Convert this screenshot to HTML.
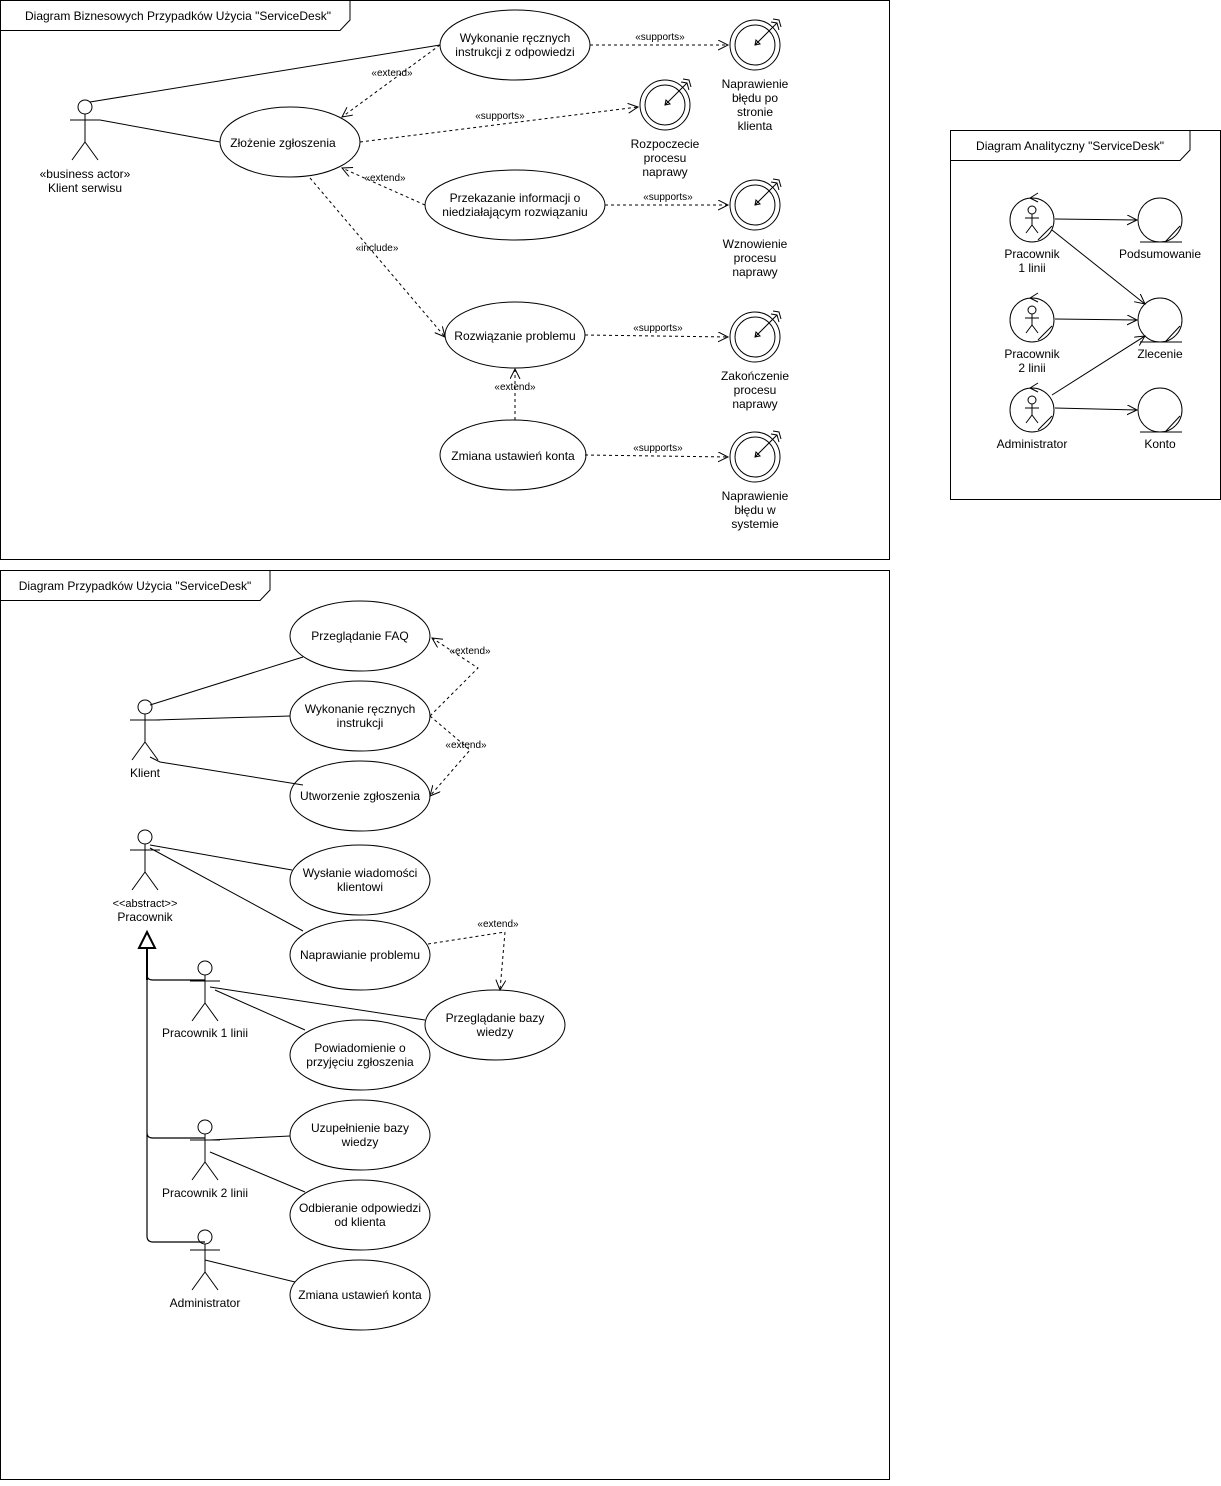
<!DOCTYPE html>
<html><head><meta charset="utf-8"><style>
body{margin:0;background:#fff}
svg text{font-family:"Liberation Sans",sans-serif;font-size:12px;fill:#000}
.s{font-size:10px}
</style></head><body>
<svg width="1221" height="1481" viewBox="0 0 1221 1481" xmlns="http://www.w3.org/2000/svg">
<defs>
<marker id="oa" markerWidth="12" markerHeight="12" refX="10" refY="5" orient="auto" markerUnits="userSpaceOnUse"><path d="M0,0 L10,5 L0,10" fill="none" stroke="#000"/></marker>
<g id="actor" fill="none" stroke="#000"><circle cx="0" cy="0" r="7"/><path d="M0,7 V35 M-15,13 H15 M0,35 L-13,53 M0,35 L13,53"/></g>
<g id="goal" fill="none" stroke="#000"><circle r="25"/><circle r="20"/><path d="M0,0 L22,-22 M16,-23 L22,-22 L24,-15 M18,-26 L24,-25 L26,-18"/><path d="M0,0 l5,-1 l-4,-4 z"/></g>
<g id="ctl" fill="none" stroke="#000"><circle r="22"/><path d="M-2,-22 l8,-5 M-2,-22 l8,4"/><circle cx="0" cy="-10" r="4"/><path d="M0,-6 V5 M-7,-2 H7 M0,5 L-6,13 M0,5 L6,13"/><path d="M6,20 L20,6"/></g>
<g id="ent" fill="none" stroke="#000"><circle r="22"/><path d="M-20,22 H22 M6,21 L20,6"/></g>
</defs>
<g fill="none" stroke="#000">
<!-- top frame -->
<rect x="0.5" y="0.5" width="889" height="559"/>
<path d="M0.5,30.5 H340 L350,20 V0.5"/>
<rect x="950.5" y="130.5" width="270" height="369"/>
<path d="M950.5,160.5 H1180 L1190,150 V130.5"/>
<rect x="0.5" y="570.5" width="889" height="909"/>
<path d="M0.5,600.5 H260 L270,590 V570.5"/>
<!-- top ellipses -->
<ellipse cx="515" cy="45" rx="75" ry="35"/>
<ellipse cx="290" cy="142" rx="70" ry="35"/>
<ellipse cx="515" cy="205" rx="90" ry="35"/>
<ellipse cx="515" cy="335" rx="70" ry="33"/>
<ellipse cx="513" cy="455" rx="73" ry="35"/>
<path d="M90,102 L440,45 M100,120 L220,142"/>
</g>
<use href="#actor" x="85" y="107"/>
<use href="#goal" x="755" y="45"/>
<use href="#goal" x="665" y="105"/>
<use href="#goal" x="755" y="205"/>
<use href="#goal" x="755" y="337"/>
<use href="#goal" x="755" y="457"/>
<g fill="none" stroke="#000" stroke-dasharray="3,3" marker-end="url(#oa)">
<path d="M590,45 L728,45"/>
<path d="M360,142 L638,107"/>
<path d="M605,205 L728,205"/>
<path d="M585,335 L728,337"/>
<path d="M585,455 L728,457"/>
<path d="M440,45 L342,117"/>
<path d="M425,205 L342,168"/>
<path d="M310,178 L445,337"/>
<path d="M515,420 L515,369"/>
</g>
<g text-anchor="middle">
<text x="25" y="20" text-anchor="start">Diagram Biznesowych Przypadków Użycia "ServiceDesk"</text>
<text x="85" y="178">«business actor»</text><text x="85" y="192">Klient serwisu</text>
<text x="515" y="42">Wykonanie ręcznych</text><text x="515" y="56">instrukcji z odpowiedzi</text>
<text x="283" y="147">Złożenie zgłoszenia</text>
<text x="515" y="202">Przekazanie informacji o</text><text x="515" y="216">niedziałającym rozwiązaniu</text>
<text x="515" y="340">Rozwiązanie problemu</text>
<text x="513" y="460">Zmiana ustawień konta</text>
<text class="s" x="660" y="40">«supports»</text>
<text class="s" x="500" y="119">«supports»</text>
<text class="s" x="668" y="200">«supports»</text>
<text class="s" x="658" y="331">«supports»</text>
<text class="s" x="658" y="451">«supports»</text>
<text class="s" x="392" y="76">«extend»</text>
<text class="s" x="385" y="181">«extend»</text>
<text class="s" x="377" y="251">«include»</text>
<text class="s" x="515" y="390">«extend»</text>
<text x="755" y="88">Naprawienie</text><text x="755" y="102">błędu po</text><text x="755" y="116">stronie</text><text x="755" y="130">klienta</text>
<text x="665" y="148">Rozpoczecie</text><text x="665" y="162">procesu</text><text x="665" y="176">naprawy</text>
<text x="755" y="248">Wznowienie</text><text x="755" y="262">procesu</text><text x="755" y="276">naprawy</text>
<text x="755" y="380">Zakończenie</text><text x="755" y="394">procesu</text><text x="755" y="408">naprawy</text>
<text x="755" y="500">Naprawienie</text><text x="755" y="514">błędu w</text><text x="755" y="528">systemie</text>
</g>
<!-- analytical -->
<use href="#ctl" x="1032" y="220"/><use href="#ctl" x="1032" y="320"/><use href="#ctl" x="1032" y="410"/>
<use href="#ent" x="1160" y="220"/><use href="#ent" x="1160" y="320"/><use href="#ent" x="1160" y="410"/>
<g fill="none" stroke="#000" marker-end="url(#oa)">
<path d="M1055,219 L1137,220"/>
<path d="M1052,230 L1145,304"/>
<path d="M1055,319 L1137,320"/>
<path d="M1052,395 L1145,336"/>
<path d="M1055,408 L1137,410"/>
</g>
<g text-anchor="middle">
<text x="1070" y="150">Diagram Analityczny "ServiceDesk"</text>
<text x="1032" y="258">Pracownik</text><text x="1032" y="272">1 linii</text>
<text x="1160" y="258">Podsumowanie</text>
<text x="1032" y="358">Pracownik</text><text x="1032" y="372">2 linii</text>
<text x="1160" y="358">Zlecenie</text>
<text x="1032" y="448">Administrator</text>
<text x="1160" y="448">Konto</text>
</g>
<!-- bottom -->
<g fill="none" stroke="#000">
<ellipse cx="360" cy="636" rx="70" ry="35"/>
<ellipse cx="360" cy="716" rx="70" ry="35"/>
<ellipse cx="360" cy="796" rx="70" ry="35"/>
<ellipse cx="360" cy="880" rx="70" ry="35"/>
<ellipse cx="360" cy="955" rx="70" ry="35"/>
<ellipse cx="495" cy="1025" rx="70" ry="35"/>
<ellipse cx="360" cy="1055" rx="70" ry="35"/>
<ellipse cx="360" cy="1135" rx="70" ry="35"/>
<ellipse cx="360" cy="1215" rx="70" ry="35"/>
<ellipse cx="360" cy="1295" rx="70" ry="35"/>
<path d="M150,705 L303,657 M155,720 L290,716 M150,757 L160,762 L303,785"/>
<path d="M150,845 L292,870 M150,848 L303,931"/>
<path d="M210,987 L425,1020 M215,990 L305,1030"/>
<path d="M210,1140 L290,1136 M210,1152 L305,1192"/>
<path d="M205,1260 L295,1282"/>
<path d="M147,948 V1236 Q147,1242 153,1242 H205 M147,975 Q147,980 153,980 H205 M147,1133 Q147,1138 153,1138 H205" stroke-width="1.2"/>
<path d="M147,948 V980" stroke-width="2"/>
<path d="M139,948 L147,932 L155,948 Z" stroke-width="2" fill="#fff"/>
</g>
<use href="#actor" x="145" y="707"/>
<use href="#actor" x="145" y="837"/>
<use href="#actor" x="205" y="968"/>
<use href="#actor" x="205" y="1127"/>
<use href="#actor" x="205" y="1237"/>
<g fill="none" stroke="#000" stroke-dasharray="3,3" marker-end="url(#oa)">
<path d="M430,716 L478,668 L432,638"/>
<path d="M430,716 L470,750 L430,796"/>
<path d="M428,944 L505,932 L500,990"/>
</g>
<g text-anchor="middle">
<text x="135" y="590">Diagram Przypadków Użycia "ServiceDesk"</text>
<text x="360" y="640">Przeglądanie FAQ</text>
<text x="360" y="713">Wykonanie ręcznych</text><text x="360" y="727">instrukcji</text>
<text x="360" y="800">Utworzenie zgłoszenia</text>
<text x="360" y="877">Wysłanie wiadomości</text><text x="360" y="891">klientowi</text>
<text x="360" y="959">Naprawianie problemu</text>
<text x="495" y="1022">Przeglądanie bazy</text><text x="495" y="1036">wiedzy</text>
<text x="360" y="1052">Powiadomienie o</text><text x="360" y="1066">przyjęciu zgłoszenia</text>
<text x="360" y="1132">Uzupełnienie bazy</text><text x="360" y="1146">wiedzy</text>
<text x="360" y="1212">Odbieranie odpowiedzi</text><text x="360" y="1226">od klienta</text>
<text x="360" y="1299">Zmiana ustawień konta</text>
<text class="s" x="470" y="654">«extend»</text>
<text class="s" x="466" y="748">«extend»</text>
<text class="s" x="498" y="927">«extend»</text>
<text x="145" y="777">Klient</text>
<text x="145" y="907" class="s" style="font-size:11px">&lt;&lt;abstract&gt;&gt;</text><text x="145" y="921">Pracownik</text>
<text x="205" y="1037">Pracownik 1 linii</text>
<text x="205" y="1197">Pracownik 2 linii</text>
<text x="205" y="1307">Administrator</text>
</g>
</svg>
</body></html>
